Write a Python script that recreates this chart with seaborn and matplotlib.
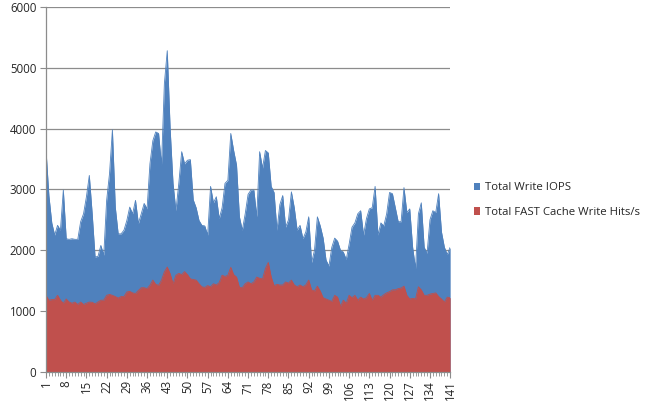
import numpy as np
import pandas as pd
import matplotlib
matplotlib.use("Agg")
import matplotlib.pyplot as plt
from matplotlib.patches import Patch
from matplotlib.ticker import MultipleLocator
import seaborn as sns

# samples 1..141
write_iops = [
    3650, 2900, 2450, 2250, 2410, 2330, 2990, 2190, 2180, 2190,
    2180, 2180, 2470, 2600, 2880, 3230, 2600, 1890, 1900, 2080,
    1920, 2820, 3260, 3980, 2710, 2270, 2270, 2330, 2490, 2710,
    2600, 2820, 2440, 2600, 2770, 2680, 3420, 3800, 3945, 3920,
    3400, 4740, 5280, 4000, 3100, 2650, 3100, 3620, 3420, 3480,
    3490, 2830, 2700, 2490, 2410, 2400, 2250, 3050, 2780, 2880,
    2520, 2700, 3100, 3150, 3920, 3640, 3400, 2550, 2330, 2600,
    2920, 2990, 2990, 2550, 3620, 3350, 3640, 3600, 3050, 2950,
    2330, 2750, 2900, 2380, 2500, 2960, 2700, 2330, 2410, 2190,
    2300, 2550, 1800, 2000, 2550, 2400, 2200, 1840, 1740, 2050,
    2200, 2150, 2000, 1970, 1850, 2100, 2380, 2450, 2600, 2650,
    2250, 2520, 2680, 2700, 3050, 2250, 2450, 2400, 2600, 2950,
    2930, 2700, 2470, 2470, 3030, 2620, 2680, 2050, 1700, 2600,
    2780, 2050, 1950, 2500, 2650, 2620, 2930, 2300, 2050, 1930,
    2050,
]
cache_hits = [
    1260, 1180, 1190, 1190, 1260, 1180, 1130, 1200, 1150, 1130,
    1150, 1110, 1150, 1110, 1130, 1150, 1145, 1120, 1150, 1180,
    1180, 1260, 1275, 1260, 1240, 1215, 1240, 1240, 1315, 1325,
    1300, 1290, 1340, 1385, 1385, 1370, 1425, 1510, 1440, 1425,
    1510, 1645, 1725, 1615, 1450, 1590, 1620, 1600, 1650, 1600,
    1530, 1520, 1510, 1450, 1400, 1390, 1420, 1400, 1450, 1430,
    1470, 1590, 1570, 1590, 1720, 1600, 1560, 1390, 1385, 1450,
    1480, 1450, 1480, 1560, 1540, 1530, 1700, 1800, 1560, 1420,
    1440, 1430, 1430, 1480, 1460, 1510, 1430, 1400, 1430, 1400,
    1430, 1510, 1350, 1330, 1410, 1330, 1220, 1200, 1180, 1160,
    1260, 1230, 1080, 1180, 1130, 1260, 1220, 1260, 1180, 1230,
    1200, 1220, 1290, 1180, 1260, 1260, 1230, 1270, 1300, 1320,
    1350, 1350, 1370, 1380, 1410, 1260, 1200, 1210, 1200, 1400,
    1350, 1260, 1260, 1280, 1290, 1300, 1240, 1200, 1150, 1230,
    1220,
]
labels = ["Total Write IOPS", "Total FAST Cache Write Hits/s"]
colors = ["#4F81BD", "#C0504D"]

df = pd.DataFrame({
    "sample": np.arange(1, len(write_iops) + 1),
    labels[0]: write_iops,
    labels[1]: cache_hits,
})

sns.set_style("white")
plt.rcParams["font.family"] = ["Open Sans", "DejaVu Sans"]

fig = plt.figure(figsize=(6.62, 4.05), dpi=100)
ax = fig.add_axes([0.0695, 0.0815, 0.6105, 0.9015])

# total first (behind), then the cache hits on top
for name, col in zip(labels, colors):
    ax.fill_between(df["sample"], df[name], 0, color=col, linewidth=0)
    sns.lineplot(data=df, x="sample", y=name, color=col, linewidth=0.6, ax=ax)

ax.set_xlim(1, 141)
ax.set_ylim(0, 6000)
ax.yaxis.set_major_locator(MultipleLocator(1000))
ax.set_xticks(df["sample"][::7])
ax.xaxis.set_minor_locator(MultipleLocator(1))
ax.tick_params(axis="x", which="major", rotation=90, labelsize=8.3, length=4,
               color="#8c8c8c", pad=2, direction="out", bottom=True)
ax.tick_params(axis="x", which="minor", length=3, color="#8c8c8c",
               direction="out", bottom=True)
ax.tick_params(axis="y", labelsize=8.3, length=4, color="#8c8c8c",
               direction="out", left=True, pad=3)
ax.grid(axis="y", color="#8c8c8c", linewidth=0.9)
ax.set_axisbelow(True)
ax.set_xlabel("")
ax.set_ylabel("")
for side in ["top", "right"]:
    ax.spines[side].set_visible(False)
for side in ["left", "bottom"]:
    ax.spines[side].set_color("#8c8c8c")
    ax.spines[side].set_linewidth(0.9)

handles = [Patch(facecolor=c, edgecolor="none") for c in colors]
fig.legend(handles, labels, loc="center left", bbox_to_anchor=(0.70, 0.506),
           frameon=False, fontsize=8.2, handlelength=0.6, handleheight=0.6,
           handletextpad=0.4, labelspacing=1.2)

fig.savefig("out.png", dpi=100)
